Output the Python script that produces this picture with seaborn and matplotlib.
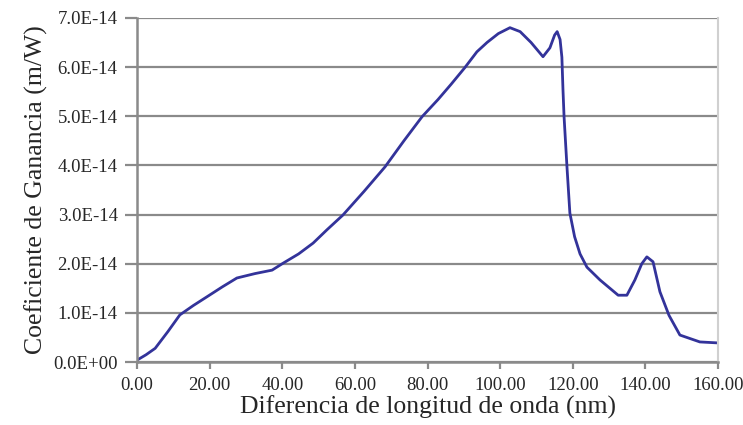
import pandas as pd
import numpy as np
import matplotlib
matplotlib.use("Agg")
import matplotlib.pyplot as plt
import seaborn as sns

# wavelength difference (nm) and gain coefficient (x 1e-14 m/W)
delta_nm = [0.0, 2.5, 5.0, 8.5, 11.8, 15.5, 19.3, 23.5, 27.5, 32.5, 37.2, 40.2,
            44.5, 48.5, 52.3, 56.7, 62.5, 68.3, 73.5, 78.5, 82.9, 86.5, 90.3,
            93.6, 96.4, 99.5, 102.7, 105.5, 108.5, 111.8, 113.7, 115.0, 115.7,
            116.5, 117.0, 117.3, 117.6, 118.4, 119.2, 120.5, 122.0, 123.9,
            127.5, 132.5, 134.9, 137.1, 139.0, 140.4, 142.1, 144.0, 146.5,
            149.5, 155.0, 160.0]
gain_e14 = [0.04, 0.15, 0.28, 0.62, 0.96, 1.15, 1.33, 1.53, 1.71, 1.80, 1.87, 2.01,
            2.20, 2.42, 2.69, 2.99, 3.47, 3.97, 4.50, 4.99, 5.34, 5.65, 5.99,
            6.31, 6.50, 6.68, 6.80, 6.72, 6.50, 6.21, 6.39, 6.65, 6.72,
            6.56, 6.20, 5.54, 4.99, 3.97, 3.03, 2.55, 2.20, 1.93,
            1.67, 1.36, 1.36, 1.67, 2.00, 2.14, 2.04, 1.43, 0.95,
            0.55, 0.41, 0.39]

df = pd.DataFrame({"x": delta_nm, "y": np.array(gain_e14) * 1e-14})

sns.set_theme(style="white")
plt.rcParams['font.family'] = ['Liberation Serif', 'DejaVu Serif']

fig = plt.figure(figsize=(7.43, 4.25), dpi=100)
ax = fig.add_axes([0.1844, 0.148, 0.782, 0.81])

sns.lineplot(data=df, x="x", y="y", ax=ax, color="#33339a", linewidth=2.0)

ax.set_xlim(0, 160)
ax.set_ylim(0, 7e-14)
ax.set_xticks(np.arange(0, 161, 20))
ax.set_yticks(np.arange(0, 8) * 1e-14)
ax.set_xticklabels([f"{v:.2f}" for v in np.arange(0, 161, 20)])
ax.set_yticklabels(["0.0E+00"] + [f"{i}.0E-14" for i in range(1, 8)])

ax.yaxis.grid(True, color="#8a8a8a", linewidth=1.6)
ax.xaxis.grid(False)
ax.set_axisbelow(True)

ax.spines["top"].set_visible(False)
ax.spines["right"].set_color("#d0d0d0")
ax.spines["right"].set_linewidth(1.5)
for s in ["left", "bottom"]:
    ax.spines[s].set_color("#8a8a8a")
    ax.spines[s].set_linewidth(1.8)

ax.tick_params(axis="y", direction="out", length=9, width=1.6, color="#8a8a8a",
               labelsize=13.5, pad=5, left=True)
ax.tick_params(axis="x", direction="out", length=5, width=1.6, color="#8a8a8a",
               labelsize=13.5, pad=6, bottom=True)

ax.set_xlabel("Diferencia de longitud de onda (nm)", fontsize=18.5, labelpad=1)
ax.set_ylabel("Coeficiente de Ganancia (m/W)", fontsize=18.5, labelpad=4)

plt.savefig("out.png", dpi=100)
